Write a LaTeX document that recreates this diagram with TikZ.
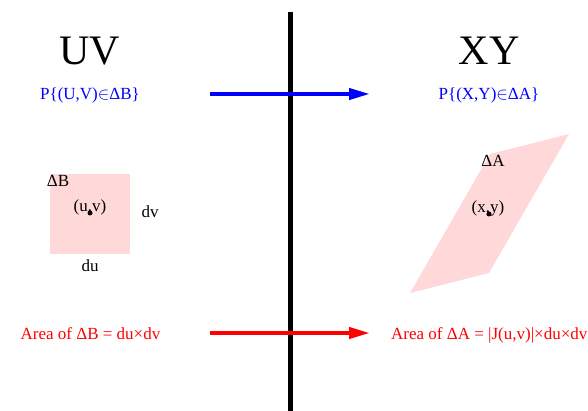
\documentclass[tikz,border=0pt]{standalone}
\usepackage{fontspec}
\setmainfont{Liberation Serif}
\usetikzlibrary{positioning, arrows.meta}
\begin{document}
\begin{tikzpicture}[x=1pt, y=-1pt,
      big/.style={font=\fontsize{42}{46}\selectfont, inner sep=0pt, anchor=base},
      lbl/.style={font=\fontsize{17}{20}\selectfont, inner sep=0pt, anchor=base},
      prob/.style={lbl, text=blue},
      area/.style={lbl, text=red},
      patch/.style={fill=red!15, draw=none},
      pt/.style={circle, fill=black, inner sep=0pt, minimum size=5pt},
      arr/.style={-{Triangle[length=21pt, width=11pt]}, line width=4pt}]
      \useasboundingbox (0,0) rectangle (588,411);
      % divider
      \coordinate (divtop) at (290,12);
      \coordinate (divbot) at (290,411);
      \draw[line width=5pt] (divtop) -- (divbot);
      % UV side
      \node[big] (uv) at (90,65) {UV};
      \node[prob] (pB) at (90,100) {P\{(U,V)$\in$ΔB\}};
      \node[patch, minimum size=80pt, inner sep=0pt] (sqB) at (90,214) {};
      \node[lbl] (dB) at (58,187) {ΔB};
      \node[lbl] (uvpt) at (90,212) {(u,v)};
      \node[pt] (dotB) at (90,213) {};
      \node[lbl] (dv) at (150,218) {dv};
      \node[lbl] (du) at (90,272) {du};
      \node[area] (aB) at (90.5,339) {Area of ΔB = du×dv};
      % XY side
      \node[big] (xy) at (489,65) {XY};
      \node[prob] (pA) at (489,100) {P\{(X,Y)$\in$ΔA\}};
      \fill[red!15] (410,293) -- (489,273) -- (569,134) -- (490,154) -- cycle;
      \node[lbl] (dA) at (493,167) {ΔA};
      \node[lbl] (xypt) at (488,213) {(x,y)};
      \node[pt] (dotA) at (489,214) {};
      \node[area, anchor=base west] (aA) at (391,339) {Area of ΔA = |J(u,v)|×du×dv};
      % mappings
      \coordinate (bs) at (210,94);
      \coordinate (be) at (370,94);
      \coordinate (rs) at (210,333);
      \coordinate (re) at (370,333);
      \draw[arr, blue] (bs) -- (be);
      \draw[arr, red] (rs) -- (re);
    \end{tikzpicture}
\end{document}
